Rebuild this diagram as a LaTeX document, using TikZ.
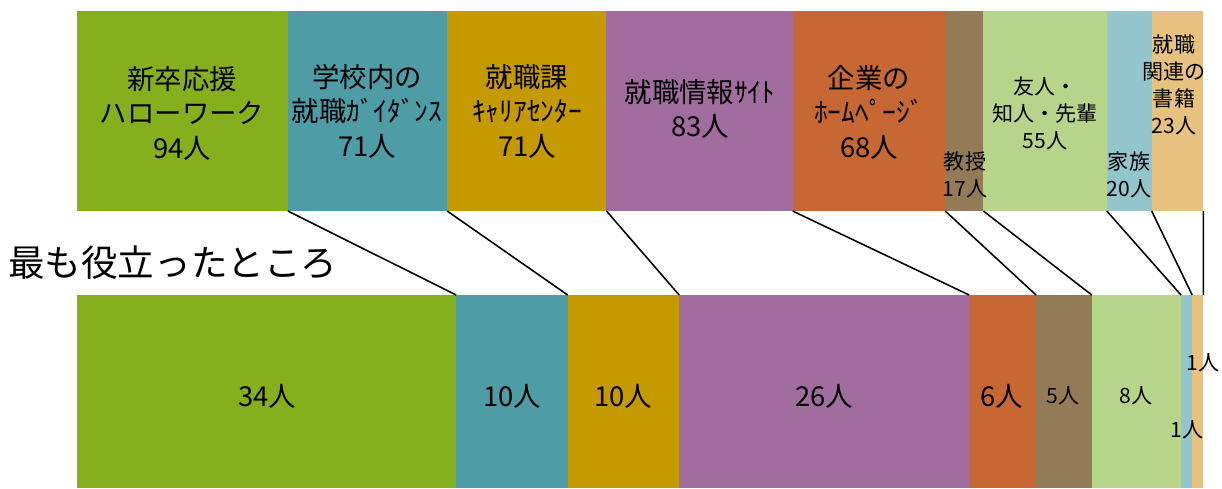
\documentclass[tikz,border=0pt]{standalone}
\usepackage{fontspec}
\setmainfont{Noto Sans CJK JP}
\usetikzlibrary{positioning}
\definecolor{hwgreen}{HTML}{86AF1E}
\definecolor{guideteal}{HTML}{4E9CA6}
\definecolor{centergold}{HTML}{C49A00}
\definecolor{sitepurple}{HTML}{A16C9E}
\definecolor{homeorange}{HTML}{C76734}
\definecolor{profbrown}{HTML}{947B57}
\definecolor{friendgreen}{HTML}{B6D58A}
\definecolor{familyblue}{HTML}{93C5CC}
\definecolor{booktan}{HTML}{E6C17F}
\newcommand{\tunit}{0.0560757cm}
\newcommand{\bunit}{0.278713cm}
\tikzset{
	seg/.style={rectangle, inner sep=0pt, outer sep=0pt, draw=none},
	topseg/.style={seg, minimum height=5cm},
	botseg/.style={seg, minimum height=4.825cm},
	biglab/.style={align=center, inner sep=0pt, font=\fontsize{19.5}{24.5}\selectfont},
	smalllab/.style={align=center, inner sep=0pt, font=\fontsize{15}{19.2}\selectfont},
	link/.style={line width=1.1pt},
}
\begin{document}
\begin{tikzpicture}[x=0.025cm,y=-0.025cm]
	\useasboundingbox (0,0) rectangle (1222,488);
	% all sources
	\node[topseg, fill=hwgreen, minimum width=94*\tunit, anchor=north west] (t1) at (77,11) {};
	\node[topseg, fill=guideteal, minimum width=71*\tunit, right=0pt of t1] (t2) {};
	\node[topseg, fill=centergold, minimum width=71*\tunit, right=0pt of t2] (t3) {};
	\node[topseg, fill=sitepurple, minimum width=83*\tunit, right=0pt of t3] (t4) {};
	\node[topseg, fill=homeorange, minimum width=68*\tunit, right=0pt of t4] (t5) {};
	\node[topseg, fill=profbrown, minimum width=17*\tunit, right=0pt of t5] (t6) {};
	\node[topseg, fill=friendgreen, minimum width=55*\tunit, right=0pt of t6] (t7) {};
	\node[topseg, fill=familyblue, minimum width=20*\tunit, right=0pt of t7] (t8) {};
	\node[topseg, fill=booktan, minimum width=23*\tunit, right=0pt of t8] (t9) {};
	% most useful
	\node[botseg, fill=hwgreen, minimum width=34*\bunit, anchor=north west] (b1) at (77,295) {};
	\node[botseg, fill=guideteal, minimum width=10*\bunit, right=0pt of b1] (b2) {};
	\node[botseg, fill=centergold, minimum width=10*\bunit, right=0pt of b2] (b3) {};
	\node[botseg, fill=sitepurple, minimum width=26*\bunit, right=0pt of b3] (b4) {};
	\node[botseg, fill=homeorange, minimum width=6*\bunit, right=0pt of b4] (b5) {};
	\node[botseg, fill=profbrown, minimum width=5*\bunit, right=0pt of b5] (b6) {};
	\node[botseg, fill=friendgreen, minimum width=8*\bunit, right=0pt of b6] (b7) {};
	\node[botseg, fill=familyblue, minimum width=1*\bunit, right=0pt of b7] (b8) {};
	\node[botseg, fill=booktan, minimum width=1*\bunit, right=0pt of b8] (b9) {};
	\draw[link] (t2.south west) -- (b2.north west);
	\draw[link] (t3.south west) -- (b3.north west);
	\draw[link] (t4.south west) -- (b4.north west);
	\draw[link] (t5.south west) -- (b5.north west);
	\draw[link] (t6.south west) -- (b6.north west);
	\draw[link] (t7.south west) -- (b7.north west);
	\draw[link] (t8.south west) -- (b8.north west);
	\draw[link] (t9.south west) -- (b9.north west);
	\draw[link] (t9.south east) -- (b9.north east);
	\node[biglab] (l1) at (182,113) {新卒応援\\ハローワーク\\94人};
	\node[biglab] (l2) at (367,111) {学校内の\\就職ｶﾞｲﾀﾞﾝｽ\\71人};
	\node[biglab] (l3) at (527,111) {就職課\\ｷｬﾘｱｾﾝﾀｰ\\71人};
	\node[biglab] (l4) at (700,109) {就職情報ｻｲﾄ\\83人};
	\node[biglab] (l5) at (869,112) {企業の\\ﾎｰﾑﾍﾟｰｼﾞ\\68人};
	\node[smalllab] (l6) at (965,175) {教授\\17人};
	\node[smalllab] (l7) at (1045,113) {友人・\\知人・先輩\\55人};
	\node[smalllab] (l8) at (1129,175) {家族\\20人};
	\node[smalllab] (l9) at (1174,85) {就職\\関連の\\書籍\\23人};
	\node[inner sep=0pt, anchor=west, font=\fontsize{26}{30}\selectfont] (title) at (8,263) {最も役立ったところ};
	\node[biglab] (m1) at (267,396) {34人};
	\node[biglab] (m2) at (512,396) {10人};
	\node[biglab] (m3) at (623,396) {10人};
	\node[biglab] (m4) at (824,396) {26人};
	\node[biglab] (m5) at (1002,396) {6人};
	\node[smalllab] (m6) at (1063,396) {5人};
	\node[smalllab] (m7) at (1136,396) {8人};
	\node[smalllab] (m8) at (1203,363) {1人};
	\node[smalllab] (m9) at (1187,430) {1人};
\end{tikzpicture}
\end{document}
